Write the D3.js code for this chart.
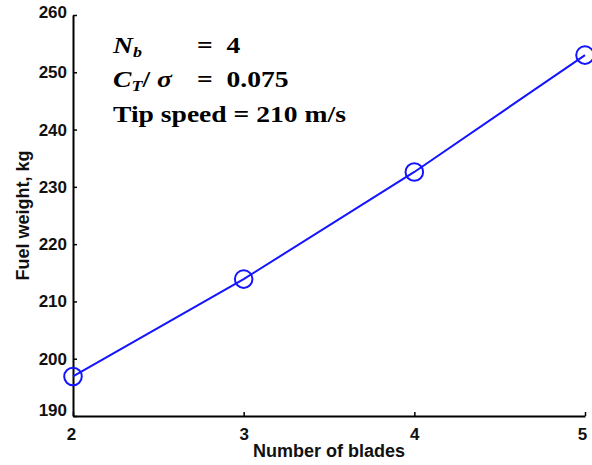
<!DOCTYPE html>
<html><head><meta charset="utf-8">
<script src="https://cdn.jsdelivr.net/npm/d3@7"></script>
<style>body{margin:0;background:#fff}</style>
</head><body>
<svg id="c" width="592" height="465"></svg>
<script>
const blades = [2, 3, 4, 5];
const fuelWeight = [196.9, 213.9, 232.6, 253.0];
const yTicks = [190, 200, 210, 220, 230, 240, 250, 260];
const xTicks = [2, 3, 4, 5];

const svg = d3.select("#c");
const m = {l: 73, r: 585, t: 15, b: 416};
const x = d3.scaleLinear().domain([2, 5]).range([m.l, m.r]);
const y = d3.scaleLinear().domain([190, 260]).range([m.b, m.t]);
const font = "Arial, 'Liberation Sans', Helvetica, sans-serif";

const xAxis = svg.append("g").attr("transform", `translate(0,${m.b})`)
  .call(d3.axisBottom(x).tickValues(xTicks).tickFormat(d3.format("d")).tickSizeInner(-4).tickSizeOuter(0).tickPadding(12));
const yAxis = svg.append("g").attr("transform", `translate(${m.l},0)`)
  .call(d3.axisLeft(y).tickValues(yTicks).tickFormat(d3.format("d")).tickSizeInner(-4).tickSizeOuter(0).tickPadding(6));
[xAxis, yAxis].forEach(g => {
  g.attr("font-size", 17).attr("font-family", font).attr("font-weight", "bold");
  g.select(".domain").attr("stroke", "#000").attr("stroke-width", 2);
  g.selectAll(".tick line").attr("stroke", "#000").attr("stroke-width", 1.5);
  g.selectAll(".tick text").attr("fill", "#111");
});
yAxis.selectAll(".tick text").filter(d => d === 190).attr("dy", "-0.05em");
yAxis.selectAll(".tick text").filter(d => d === 260).attr("dy", "0.15em");
xAxis.selectAll(".tick text").filter(d => d === 2).attr("x", -2);
xAxis.selectAll(".tick text").filter(d => d === 5).attr("x", -3);

svg.append("text").attr("x", x(3.5)).attr("y", 457).attr("text-anchor", "middle")
  .style("font-family", font).style("font-size", "18px").style("font-weight", "bold").attr("fill", "#111")
  .text("Number of blades");
svg.append("text").attr("transform", `translate(29,${y(225)}) rotate(-90)`).attr("text-anchor", "middle")
  .style("font-family", font).style("font-size", "18px").style("font-weight", "bold").attr("fill", "#111")
  .text("Fuel weight, kg");

const data = blades.map((b, i) => ({b, w: fuelWeight[i]}));
svg.append("path").datum(data)
  .attr("d", d3.line().x(d => x(d.b)).y(d => y(d.w)))
  .attr("fill", "none").attr("stroke", "#1414ff").attr("stroke-width", 2);
svg.selectAll("circle.pt").data(data).enter().append("circle")
  .attr("cx", d => x(d.b)).attr("cy", d => y(d.w)).attr("r", 8.8)
  .attr("fill", "none").attr("stroke", "#1414ff").attr("stroke-width", 2);

const serif = "'Times New Roman', 'Liberation Serif', serif";
const ann = svg.append("g").attr("transform", "translate(113,0) scale(1.2,1)")
  .style("font-family", serif).style("font-weight", "bold").style("font-size", "23px").attr("fill", "#000");
const t1 = ann.append("text").attr("x", 0).attr("y", 53);
t1.append("tspan").style("font-style", "italic").text("N");
t1.append("tspan").style("font-style", "italic").style("font-size", "15px").attr("dy", 4).text("b");
ann.append("text").attr("x", 70).attr("y", 53).text("=\u00A0\u00A04");
const t2 = ann.append("text").attr("x", 0).attr("y", 87);
t2.append("tspan").style("font-style", "italic").text("C");
t2.append("tspan").style("font-style", "italic").style("font-size", "15px").attr("dy", 4).text("T");
t2.append("tspan").attr("dy", -4).text("/\u00A0");
t2.append("tspan").style("font-style", "italic").text("σ");
ann.append("text").attr("x", 70).attr("y", 87).text("=\u00A0\u00A00.075");
ann.append("text").attr("x", 0).attr("y", 122).text("Tip speed = 210 m/s");
</script>
</body></html>
